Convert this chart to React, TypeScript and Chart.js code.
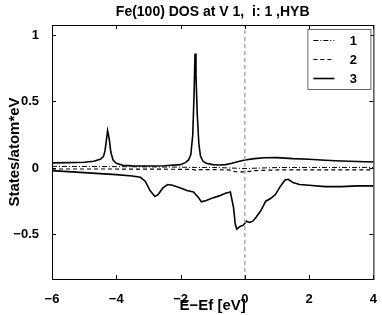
import React, { useEffect, useRef } from "react";
import { Chart, registerables } from "chart.js";

Chart.register(...registerables);

const titleText = "Fe(100) DOS at V 1,  i: 1 ,HYB";
const xLabel = "E\u2212Ef [eV]";
const yLabel = "States/atom*eV";
const legendLabels = ["1", "2", "3"];
const xTicks = [-6, -4, -2, 0, 2, 4];
const yTicks = [-0.5, 0, 0.5, 1];
const xRange = [-6, 4];
const yRange = [-0.835, 1.075];

// series 1 (dash-dot)
const s1E = [-6, -4, -2, -1.5, -1, -0.5, 0, 1, 2, 3, 4];
const s1V = [0.012, 0.01, 0.006, 0.004, 0.004, 0.0, -0.004, 0.003, 0.004, 0.004, 0.004];
// series 2 (dashed)
const s2E = [-6, -4, -2, -1.6, -1.5, -1.4, -1, -0.5, -0.3, 0, 0.3, 1, 2, 3, 4];
const s2V = [-0.008, -0.008, -0.01, -0.012, -0.02, -0.012, -0.012, -0.015, -0.028, -0.03, -0.02, -0.015, -0.014, -0.015, -0.015];
// series 3, majority (positive)
const s3upE = [-6, -5.5, -5, -4.7, -4.5, -4.4, -4.35, -4.3, -4.27, -4.22, -4.17, -4.1, -4.0, -3.8, -3.5, -3.0, -2.5, -2.0, -1.85, -1.75, -1.68, -1.62, -1.58, -1.55, -1.52, -1.48, -1.43, -1.38, -1.3, -1.2, -1.0, -0.8, -0.6, -0.4, -0.2, 0, 0.3, 0.6, 1.0, 1.5, 2.0, 2.5, 3.0, 3.5, 4.0];
const s3upV = [0.038, 0.04, 0.043, 0.05, 0.065, 0.085, 0.13, 0.22, 0.28, 0.22, 0.12, 0.06, 0.035, 0.02, 0.016, 0.015, 0.017, 0.025, 0.04, 0.06, 0.1, 0.25, 0.55, 0.86, 0.7, 0.4, 0.18, 0.09, 0.05, 0.035, 0.025, 0.022, 0.025, 0.035, 0.048, 0.06, 0.07, 0.077, 0.078, 0.07, 0.065, 0.058, 0.052, 0.048, 0.045];
// series 3, minority (negative)
const s3dnE = [-6, -5, -4, -3.5, -3.25, -3.1, -2.95, -2.8, -2.7, -2.55, -2.4, -2.25, -2.0, -1.8, -1.6, -1.45, -1.35, -1.2, -1.0, -0.8, -0.6, -0.45, -0.35, -0.3, -0.25, -0.15, -0.05, 0.05, 0.15, 0.25, 0.35, 0.5, 0.65, 0.8, 0.95, 1.1, 1.25, 1.35, 1.5, 1.7, 2.0, 2.5, 3.0, 3.5, 4.0];
const s3dnV = [-0.02, -0.035, -0.05, -0.06, -0.07, -0.1, -0.17, -0.215, -0.2, -0.15, -0.125, -0.13, -0.15, -0.17, -0.18, -0.22, -0.255, -0.245, -0.225, -0.21, -0.19, -0.18, -0.3, -0.42, -0.46, -0.44, -0.43, -0.4, -0.41, -0.4, -0.37, -0.32, -0.25, -0.23, -0.2, -0.14, -0.09, -0.085, -0.11, -0.125, -0.13, -0.14, -0.14, -0.135, -0.135];

const FONT = "'Liberation Sans', Arial, Helvetica, sans-serif";

const zip = (e: number[], v: number[]) => e.map((x, i) => ({ x, y: v[i] }));
const fmt = (v: number) => String(v).replace("-", "\u2212");

export default function App() {
  const ref = useRef<HTMLCanvasElement | null>(null);
  useEffect(() => {
    if (!ref.current) return;
    const styles = [
      { dash: [5, 2, 1, 2], width: 1 },
      { dash: [4, 3], width: 1.2 },
      { dash: [], width: 1.6 },
    ];
    const decor = {
      id: "decor",
      afterDraw(chart: any) {
        const { ctx, chartArea: a, scales } = chart;
        const xs = scales.x, ys = scales.y;
        ctx.save();
        ctx.strokeStyle = "#000";
        ctx.lineWidth = 1;
        ctx.strokeRect(a.left + 0.5, a.top + 0.5, a.right - a.left, a.bottom - a.top);
        ctx.beginPath();
        for (const t of xTicks) {
          const px = Math.round(xs.getPixelForValue(t)) + 0.5;
          ctx.moveTo(px, a.bottom); ctx.lineTo(px, a.bottom - 4);
          ctx.moveTo(px, a.top); ctx.lineTo(px, a.top + 4);
        }
        for (const t of yTicks) {
          const py = Math.round(ys.getPixelForValue(t)) + 0.5;
          ctx.moveTo(a.left, py); ctx.lineTo(a.left + 4, py);
          ctx.moveTo(a.right, py); ctx.lineTo(a.right - 4, py);
        }
        ctx.stroke();
        ctx.fillStyle = "#000";
        ctx.textAlign = "center";
        ctx.textBaseline = "middle";
        const cx = (a.left + a.right) / 2;
        // title
        ctx.font = `bold 14px ${FONT}`;
        ctx.fillText(titleText, cx, 12);
        // axis labels
        ctx.font = `bold 15px ${FONT}`;
        ctx.fillText(xLabel, cx, 306);
        ctx.save();
        ctx.translate(15, (a.top + a.bottom) / 2);
        ctx.rotate(-Math.PI / 2);
        ctx.fillText(yLabel, 0, 0);
        ctx.restore();
        // legend
        const bx = a.right - 66, by = a.top + 4, bw = 63, bh = 60;
        ctx.fillStyle = "#fff";
        ctx.fillRect(bx, by, bw, bh);
        ctx.strokeStyle = "#666";
        ctx.lineWidth = 1;
        ctx.strokeRect(bx + 0.5, by + 0.5, bw, bh);
        ctx.font = `bold 13px ${FONT}`;
        legendLabels.forEach((lab, i) => {
          const y = by + 11 + i * 19;
          ctx.strokeStyle = "#000";
          ctx.lineWidth = styles[i].width;
          ctx.setLineDash(styles[i].dash);
          ctx.beginPath();
          ctx.moveTo(bx + 6, y + 0.5); ctx.lineTo(bx + 27, y + 0.5);
          ctx.stroke();
          ctx.setLineDash([]);
          ctx.fillStyle = "#000";
          ctx.fillText(lab, bx + 46, y + 1);
        });
        ctx.restore();
      },
    };
    const mk = (data: any[], i: number) => ({
      data,
      borderColor: "#000",
      borderWidth: styles[i].width,
      borderDash: styles[i].dash,
      pointRadius: 0,
      tension: 0,
      fill: false,
    });
    const chart = new Chart(ref.current, {
      type: "line",
      data: {
        datasets: [
          {
            data: [{ x: 0, y: yRange[0] }, { x: 0, y: yRange[1] }],
            borderColor: "#aaaaaa",
            borderWidth: 1.5,
            borderDash: [4, 3],
            pointRadius: 0,
          },
          mk(zip(s1E, s1V), 0),
          mk(zip(s2E, s2V), 1),
          mk(zip(s3upE, s3upV), 2),
          mk(zip(s3dnE, s3dnV), 2),
        ] as any,
      },
      plugins: [decor],
      options: {
        animation: false,
        responsive: true,
        maintainAspectRatio: false,
        layout: { padding: { top: 25, right: 7, left: 0, bottom: 0 } },
        plugins: { legend: { display: false }, tooltip: { enabled: false }, title: { display: false } },
        scales: {
          x: {
            type: "linear",
            min: xRange[0],
            max: xRange[1],
            grid: { display: false },
            border: { display: false },
            afterBuildTicks: (s: any) => { s.ticks = xTicks.map((v) => ({ value: v })); },
            afterFit: (s: any) => { s.height = 36; },
            ticks: { color: "#000", font: { family: FONT, size: 13, weight: "bold" }, padding: 5, maxRotation: 0, callback: (v: any) => fmt(v) },
            title: { display: false },
          },
          y: {
            type: "linear",
            min: yRange[0],
            max: yRange[1],
            grid: { display: false },
            border: { display: false },
            afterBuildTicks: (s: any) => { s.ticks = yTicks.map((v) => ({ value: v })); },
            afterFit: (s: any) => { s.width = 52; },
            ticks: { color: "#000", font: { family: FONT, size: 13, weight: "bold" }, padding: 5, callback: (v: any) => fmt(v) },
            title: { display: false },
          },
        },
      } as any,
    });
    return () => chart.destroy();
  }, []);
  return (
    <div style={{ position: "fixed", left: 0, top: 0, width: 382, height: 315, background: "#fff" }}>
      <canvas ref={ref} />
    </div>
  );
}
